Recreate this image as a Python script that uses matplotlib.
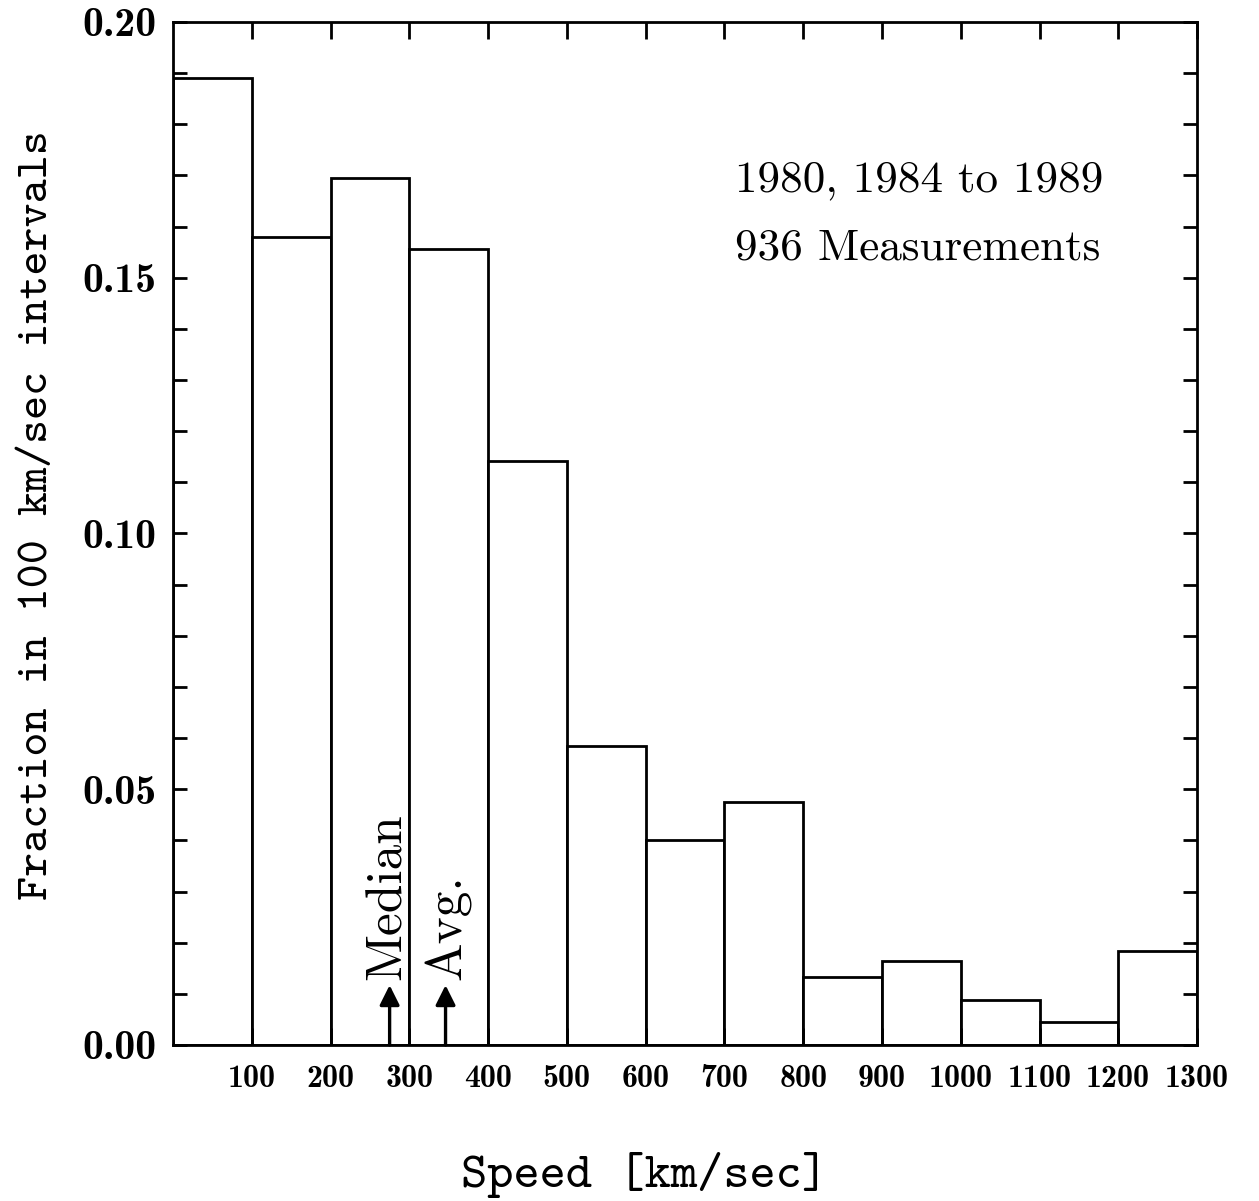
import matplotlib.pyplot as plt
from matplotlib.ticker import MultipleLocator, FixedLocator

# histogram bins (km/sec) and fraction in each 100 km/sec interval
bin_left = [0, 100, 200, 300, 400, 500, 600, 700, 800, 900, 1000, 1100, 1200]
fraction = [0.189, 0.158, 0.1695, 0.1556, 0.1142, 0.0585, 0.0401, 0.0475,
            0.0133, 0.0164, 0.0088, 0.0045, 0.0184]
xtick_vals = [100, 200, 300, 400, 500, 600, 700, 800, 900, 1000, 1100, 1200, 1300]
ytick_vals = [0.00, 0.05, 0.10, 0.15, 0.20]

median_speed = 275
avg_speed = 346

fig = plt.figure(figsize=(12.59, 12.01), dpi=100)
ax = fig.add_axes([0.1374, 0.1299, 0.8134, 0.8518])

ax.bar(bin_left, fraction, width=100, align='edge', facecolor='white',
       edgecolor='black', linewidth=2.0)

ax.set_xlim(0, 1300)
ax.set_ylim(0, 0.20)

ax.xaxis.set_major_locator(FixedLocator(xtick_vals))
ax.yaxis.set_major_locator(FixedLocator(ytick_vals))
ax.yaxis.set_minor_locator(MultipleLocator(0.01))
ax.set_xticklabels([str(v) for v in xtick_vals], fontfamily='cmb10', fontsize=23)
ax.set_yticklabels(['%.2f' % v for v in ytick_vals], fontfamily='cmb10', fontsize=30)

ax.tick_params(axis='x', which='major', direction='in', top=True, bottom=True,
               length=12, width=2, pad=14)
ax.tick_params(axis='y', which='both', direction='in', left=True, right=True,
               length=10, width=2, pad=12)

for s in ax.spines.values():
    s.set_linewidth(2.0)

# median and average arrows
for xv in [median_speed, avg_speed]:
    ax.annotate('', xy=(xv, 0.0117), xytext=(xv, 0.0),
                arrowprops=dict(arrowstyle='-|>', color='black', lw=2.4,
                                mutation_scale=30, shrinkA=0, shrinkB=0))
ax.text(median_speed - 2, 0.0127, 'Median', rotation=90, ha='center', va='bottom',
        fontfamily='cmr10', fontsize=37)
ax.text(avg_speed + 3, 0.0127, 'Avg.', rotation=90, ha='center', va='bottom',
        fontfamily='cmr10', fontsize=37)

ax.text(713, 0.1668, '1980, 1984 to 1989', fontfamily='cmr10', fontsize=32.5)
ax.text(713, 0.1535, '936 Measurements', fontfamily='cmr10', fontsize=32.5)

fig.text(0.512, 0.022, 'Speed [km/sec]', ha='center', va='center',
         fontfamily='cmtt10', fontsize=36)
fig.text(0.030, 0.571, 'Fraction in 100 km/sec intervals', rotation=90,
         ha='center', va='center', fontfamily='cmtt10', fontsize=33)

fig.savefig('out.png', dpi=100)
